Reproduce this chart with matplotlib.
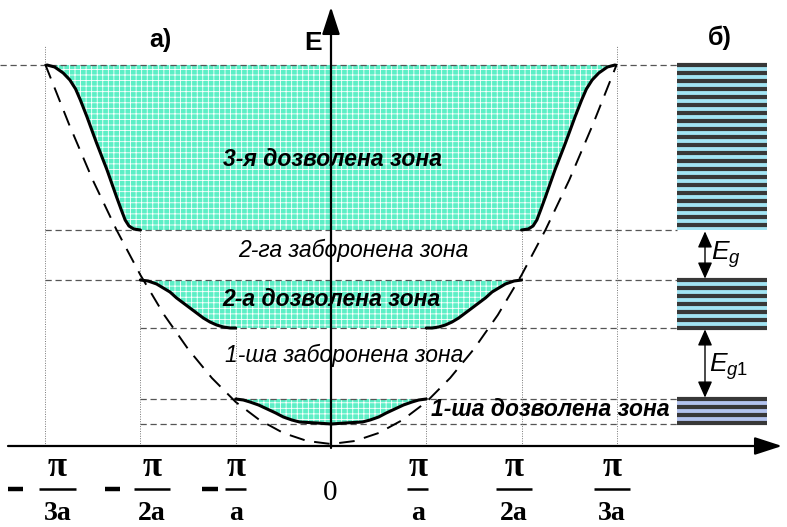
import numpy as np
import matplotlib
matplotlib.use('Agg')
import matplotlib.pyplot as plt

plt.rcParams['font.family'] = ['Liberation Sans', 'DejaVu Sans']
plt.rcParams['hatch.linewidth'] = 0.6
plt.rcParams['mathtext.fontset'] = 'custom'
plt.rcParams['mathtext.it'] = 'Liberation Sans:italic'
plt.rcParams['mathtext.rm'] = 'Liberation Sans'

# Рівні країв дозволених зон (енергія, умовні одиниці)
band_bottom = [22, 118, 216]
band_top = [47, 166, 381]

# Вільний електрон: пунктирна парабола
free_k = [-3, -2.75, -2.5, -2.25, -2, -1.75, -1.5, -1.25, -1, -0.75, -0.5, -0.25, 0,
          0.25, 0.5, 0.75, 1, 1.25, 1.5, 1.75, 2, 2.25, 2.5, 2.75, 3]
free_E = [382, 322, 266, 216, 171, 131, 97, 68, 44, 26, 13, 5, 2,
          5, 13, 26, 44, 68, 97, 131, 171, 216, 266, 322, 382]

# 1-ша зона (суцільна крива)
band1_k = [-1.0, -0.92, -0.85, -0.76, -0.67, -0.58, -0.5, -0.41, -0.33, -0.15, 0,
           0.15, 0.33, 0.41, 0.5, 0.58, 0.67, 0.76, 0.85, 0.92, 1.0]
band1_E = [47, 46, 44, 41, 37, 33, 29, 26, 24, 23, 22,
           23, 24, 26, 29, 33, 37, 41, 44, 46, 47]

# 2-а зона, ліва гілка
band2_k = [-2.0, -1.92, -1.83, -1.76, -1.69, -1.62, -1.55, -1.48, -1.41, -1.34, -1.27, -1.2, -1.13, -1.06, -1.0]
band2_E = [166, 165, 162, 158, 154, 148, 143, 138, 133, 128, 124, 121, 119, 118, 118]

# 3-я зона, ліва гілка
band3_k = [-2.98, -2.9, -2.81, -2.74, -2.68, -2.63, -2.56, -2.46, -2.35, -2.25,
           -2.2, -2.16, -2.12, -2.07, -2.0]
band3_E = [381, 379, 373, 366, 357, 346, 329, 303, 276, 249,
           236, 226, 220, 217, 216]

tick_k = [-3, -2, -1, 0, 1, 2, 3]
tick_den = ['3a', '2a', 'a', '', 'a', '2a', '3a']

zone_labels = ['3-я дозволена зона', '2-га заборонена зона', '2-а дозволена зона',
               '1-ша заборонена зона', '1-ша дозволена зона']

fill_col = '#5cefc6'
px = 95.3  # пікселів на одиницю k


def mirror(k, E):
    k = np.asarray(k)
    E = np.asarray(E)
    return -k[::-1], E[::-1]


fig = plt.figure(figsize=(7.87, 5.27), dpi=100)
ax = fig.add_axes([0, 0, 1, 1])
ax.set_xlim(-331 / px, (787 - 331) / px)
ax.set_ylim(-81, 446)
ax.axis('off')

# ---- заливка дозволених зон ----
k3r, E3r = mirror(band3_k, band3_E)
poly3_k = np.concatenate([band3_k, k3r])
poly3_E = np.concatenate([band3_E, E3r])
ax.fill(poly3_k, poly3_E, facecolor=fill_col, edgecolor='white', hatch='+++', lw=0, zorder=1)

k2r, E2r = mirror(band2_k, band2_E)
poly2_k = np.concatenate([band2_k, k2r])
poly2_E = np.concatenate([band2_E, E2r])
ax.fill(poly2_k, poly2_E, facecolor=fill_col, edgecolor='white', hatch='+++', lw=0, zorder=1)

ax.fill(band1_k, band1_E, facecolor=fill_col, edgecolor='white', hatch='+++', lw=0, zorder=1)

# ---- допоміжні лінії ----
x_panel = (677 - 331) / px
x_left = ax.get_xlim()[0]
hl_start = [-2, -2, -2, -3, -3, x_left]
levels = [band_bottom[0], band_top[0], band_bottom[1], band_top[1], band_bottom[2], band_top[2]]
for lv, xs in zip(levels, hl_start):
    ax.plot([xs, x_panel], [lv, lv], color='#555555', lw=0.9, ls=(0, (5, 3)), zorder=2)

vl_top = {3: 400, 2: band_bottom[2], 1: band_bottom[1]}
for k in tick_k:
    if k == 0:
        continue
    ax.plot([k, k], [0, vl_top[abs(k)]], color='#777777', lw=0.7, ls=(0, (1, 1.5)), zorder=2)

# ---- парабола та криві зон ----
ax.plot(free_k, free_E, color='black', lw=1.4, ls=(0, (8, 5)), zorder=3)
for ck, cE in [(band1_k, band1_E), (band2_k, band2_E), (k2r, E2r), (band3_k, band3_E), (k3r, E3r)]:
    ax.plot(ck, cE, color='black', lw=2.2, zorder=4, solid_capstyle='round')

# ---- осі ----
arrow_style = '-|>,head_length=0.4,head_width=0.13'
ax.annotate('', xy=(782 / px - 331 / px, 0), xytext=(-323 / px, 0),
            arrowprops=dict(arrowstyle=arrow_style, color='black', lw=1.6,
                            mutation_scale=42, shrinkA=0, shrinkB=0), zorder=5)
ax.annotate('', xy=(0, 439), xytext=(0, -2),
            arrowprops=dict(arrowstyle=arrow_style, color='black', lw=1.6,
                            mutation_scale=42, shrinkA=0, shrinkB=0), zorder=5)
ax.text(-18 / px, 403, 'E', fontsize=19, fontweight='bold', ha='center', va='center')
ax.text(-171 / px, 406, 'а)', fontsize=18, fontweight='bold', ha='center', va='center')
ax.text(389 / px, 408, 'б)', fontsize=18, fontweight='bold', ha='center', va='center')

# ---- підписи на осі k ----
frac_x = [-2.87, -1.88, -1.0, 0, 0.91, 1.92, 2.95]
minus_x = [-3.31, -2.29, -1.27]
serif = 'Liberation Serif'
for i, k in enumerate(tick_k):
    if k == 0:
        ax.text(-0.01, -47, '0', fontsize=21, family=serif, ha='center', va='center')
        continue
    fx = frac_x[i]
    ax.text(fx, -22, 'π', fontsize=25, family=serif, fontweight='bold', ha='center', va='center')
    ax.text(fx, -68, tick_den[i], fontsize=20, family=serif, fontweight='bold', ha='center', va='center')
    half = 0.19 if len(tick_den[i]) > 1 else 0.11
    ax.plot([fx - half, fx + half], [-43, -43], color='black', lw=1.8, solid_capstyle='butt')
    if k < 0:
        mx = minus_x[i]
        ax.plot([mx - 0.08, mx + 0.08], [-43, -43], color='black', lw=3.2, solid_capstyle='butt')

# ---- назви зон ----
ax.text(0.02, 286, zone_labels[0], fontsize=16.5, fontweight='bold', style='italic',
        ha='center', va='center', zorder=6)
ax.text(0.23, 196, zone_labels[1], fontsize=16.5, style='italic', ha='center', va='center', zorder=6)
ax.text(0.0, 146, zone_labels[2], fontsize=16.5, fontweight='bold', style='italic',
        ha='center', va='center', zorder=6)
ax.text(0.14, 91, zone_labels[3], fontsize=16.5, style='italic', ha='center', va='center', zorder=6)
ax.text(2.30, 36, zone_labels[4], fontsize=16.5, fontweight='bold', style='italic',
        ha='center', va='center', zorder=6)

# ---- б) енергетична діаграма ----
panel_w = 90 / px
stripe_step = 8
light_cols = ['#b3c3ee', '#a2e4f3', '#a2e4f3']
for lo, hi, lc in zip(band_bottom, band_top, light_cols):
    ax.fill([x_panel, x_panel + panel_w, x_panel + panel_w, x_panel], [lo, lo, hi, hi],
            facecolor=lc, edgecolor='none', zorder=2)
    for s in np.arange(hi, lo - 1, -stripe_step):
        ax.plot([x_panel, x_panel + panel_w], [s, s], color='#383838', lw=3.0,
                solid_capstyle='butt', zorder=3)

x_arr = (705 - 331) / px
for lo, hi in [(band_top[1], band_bottom[2]), (band_top[0], band_bottom[1])]:
    ax.annotate('', xy=(x_arr, hi), xytext=(x_arr, lo),
                arrowprops=dict(arrowstyle='<|-|>,head_length=0.45,head_width=0.2', color='black',
                                lw=1.0, mutation_scale=22, shrinkA=1, shrinkB=1))
ax.text((711 - 331) / px, 191, '$E_g$', fontsize=19, ha='left', va='center')
ax.text((709 - 331) / px, 79, '$E_{g1}$', fontsize=19, ha='left', va='center')

fig.savefig('out.png', dpi=100)
